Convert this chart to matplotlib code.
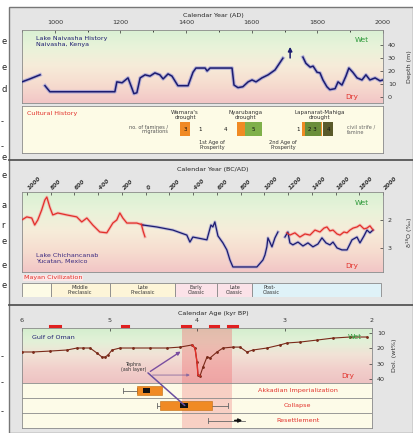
import numpy as np
import matplotlib
matplotlib.use("Agg")
import matplotlib.pyplot as plt
from matplotlib.colors import LinearSegmentedColormap
from matplotlib.patches import Rectangle, ConnectionPatch
from matplotlib.lines import Line2D

nan = np.nan

# ---- Panel A: Lake Naivasha (calendar year AD, lake depth m)
years_a = [900, 924, 955, nan, 970, 985, 1183, 1189, 1205, 1223, 1232, 1241, 1250,
           1260, 1275, 1290, 1305, 1320, 1330, 1345, 1357, 1375, 1406, 1421, 1430,
           1458, 1464, 1473, 1540, 1546, 1558, 1573, 1589, 1601, 1613, 1631, 1650,
           1671, 1683, 1695, nan, 1756, 1765, 1778, 1787, 1799, 1808, 1817, 1829,
           1838, 1854, 1863, 1875, 1887, 1896, 1908, 1921, 1936, 1948, 1960, 1976,
           1991, 2000]
depth_a = [11.5, 13.8, 17, nan, 8.5, 3.8, 3.8, 11.5, 10.8, 14.6, 8.5, 2.3, 3,
           14.6, 17, 16, 18.5, 17, 13.8, 17.7, 16, 8.5, 8.5, 19, 22.3,
           22.3, 20, 22.3, 22.3, 9, 7, 7.7, 11.5, 13, 11.5, 14.6, 17,
           20.8, 25.4, 30, nan, 30.8, 26, 23, 23.8, 19, 18.5, 13, 7.7,
           5.4, 6.2, 11.5, 9, 16, 22.3, 19, 14.6, 13, 17, 13, 14.6,
           12.3, 13]
arrow_year_a = 1717
arrow_depth_a = (28, 41)
ticks_a = [1000, 1200, 1400, 1600, 1800, 2000]
depth_ticks_a = [0, 10, 20, 30, 40]

# cultural history boxes (start, end, colour, label)
culture_boxes = [(1381, 1412, "#f08a24", "3"), (1555, 1631, "#f08a24", ""),
                 (1580, 1631, "#7fb04a", "5"), (1753, 1814, "#f08a24", ""),
                 (1762, 1810, "#6a8e3a", "2 3"), (1817, 1848, "#5a5a2a", "4")]
culture_digits = [(1442, "1"), (1519, "4"), (1741, "1")]
droughts = [(1397, "Wamara's\ndrought"), (1580, "Nyarubanga\ndrought"),
            (1808, "Lapanarat-Mahiga\ndrought")]
prosperity = [(1479, "1st Age of\nProsperity"), (1695, "2nd Age of\nProsperity")]

# ---- Panel B: Lake Chichancanab (calendar year BC/AD, d18O)
years_b_red = [-1042, -1000, -958, -933, -907, -874, -848, -831, -806, -781, -739,
               -663, -579, -537, -494, -444, -385, -326, -301, -275, -242, -216,
               -191, -157, -73, -22]
d18o_b_red = [2.0, 1.89, 1.93, 2.18, 2.0, 1.64, 1.29, 1.18, 1.54, 1.82, 1.75,
              1.82, 1.89, 2.07, 1.93, 2.18, 2.43, 2.46, 2.29, 2.11, 2.0, 1.75,
              1.93, 2.11, 2.11, 2.18]
years_b_frag = [-35, -20, -5]
d18o_b_frag = [2.15, 2.4, 2.6]
years_b_blue = [-22, 95, 230, 348, 374, 399, 517, 551, 567, 584, 610, 652, 685, 711,
                736, 938, 989, 1006, 1022, 1031, 1065, 1090, 1115, nan, 1174, 1199,
                1216, 1241, 1284, 1326, 1368, 1410, 1452, 1486, 1520, 1553, 1579,
                1613, 1654, 1697, 1739, 1781, 1806, 1840, 1865, 1890, 1916]
d18o_b_blue = [2.18, 2.25, 2.36, 2.54, 2.79, 2.61, 2.71, 2.18, 2.25, 2.07, 2.57,
               2.82, 3.07, 3.43, 3.68, 3.68, 3.43, 3.25, 2.96, 2.64, 2.96, 2.64,
               2.43, nan, 2.61, 2.43, 2.82, 2.89, 2.79, 2.93, 2.82, 2.96, 2.86,
               2.64, 2.82, 2.89, 2.79, 3.0, 3.07, 3.07, 2.71, 2.61, 2.82, 2.57,
               2.36, 2.46, 2.36]
years_b_red2 = [1191, 1216, 1258, 1300, 1343, 1385, 1427, 1469, 1503, 1528, 1553,
                1579, 1613, 1638, 1671, 1697, 1722, 1748, 1781, 1806, 1840, 1865,
                1890, 1916]
d18o_b_red2 = [2.46, 2.54, 2.46, 2.61, 2.5, 2.54, 2.36, 2.43, 2.29, 2.25, 2.39,
               2.36, 2.5, 2.54, 2.43, 2.46, 2.36, 2.29, 2.25, 2.18, 2.32, 2.29,
               2.21, 2.36]
ticks_b = list(range(-1000, 2001, 200))
maya_bounds = [-1040, -800, -300, 250, 600, 900, 1980]
maya_colors = ["#fdfbe6", "#fdf5d8", "#fdf5d8", "#fbe2e8", "#fbe2e8", "#dff2f8"]
maya_periods = ["", "Middle\nPreclassic", "Late\nPreclassic", "Early\nClassic",
                "Late\nClassic", "Post-\nClassic"]

# ---- Panel C: Gulf of Oman (calendar age kyr BP, dolomite wt%)
kyr_c = [6.0, 5.874, 5.68, 5.486, 5.371, 5.303, 5.223, 5.143, 5.086, 5.051, 5.017,
         4.971, 4.88, 4.731, 4.537, 4.343, 4.194, 4.057, 4.023, 4.0, 3.989, 3.966,
         3.931, 3.886, 3.851, 3.771, 3.703, 3.589, 3.509, 3.429, 3.36, 3.2, 3.051,
         2.971, 2.823, 2.629, 2.446, 2.251, 2.057]
dolo_c = [22.4, 22.4, 21.8, 21.1, 19.8, 19.8, 19.8, 23.1, 25.7, 25.7, 24.4,
          21.1, 19.8, 19.8, 19.8, 19.8, 19.2, 17.8, 19.8, 29.0, 37.5, 38.1,
          32.2, 25.7, 26.3, 22.4, 19.8, 19.2, 19.2, 22.4, 21.1, 19.8, 17.8,
          16.5, 15.9, 14.6, 13.3, 12.6, 12.6]
dates_c = [(5.68, 5.57), (4.86, 4.79), (4.17, 4.08), (3.85, 3.76), (3.65, 3.54)]
band_c = (4.17, 3.6)
ticks_c = [6, 5, 4, 3, 2]
dolo_ticks_c = [10, 20, 30, 40]
rows_c = ["Akkadian Imperialization", "Collapse", "Resettlement"]
row_whisk = [(4.85, 4.69), (4.46, 3.65), (3.87, 3.45)]
row_box = [(4.69, 4.40), (4.42, 3.83), None]
row_core = [(4.62, 4.54), (4.19, 4.10), None]

strip_chars = ["e", "e", "d", "-", "-", "e", "e", "a", "r", "e", "e", "e", "-", "-", "-"]
strip_y = [42, 67, 90, 122, 147, 158, 175, 205, 225, 242, 265, 285, 357, 383, 412]

# ------------------------------------------------------------------
W, H = 413, 433
NAVY = "#1c1c70"
RED = "#e2302a"
FS = 4.6


def rect(x0, y0, x1, y1):
    return [x0 / W, 1 - y1 / H, (x1 - x0) / W, (y1 - y0) / H]


def fx(x):
    return x / W


def fy(y):
    return 1 - y / H


grad = LinearSegmentedColormap.from_list(
    "wetdry", ["#d9f0d3", "#e9f3da", "#f7ecd9", "#f6dccf", "#f2c6c6"])
grad_c = LinearSegmentedColormap.from_list(
    "wetdry_c", ["#d3eecd", "#e2f1d8", "#f2e2d6", "#f1cfcb", "#eec3c3"])


def gradient(ax, cmap):
    ax.imshow(np.linspace(0, 1, 256).reshape(-1, 1), cmap=cmap, aspect="auto",
              extent=(0, 1, 0, 1), transform=ax.transAxes, zorder=0)


def style(ax):
    for s in ax.spines.values():
        s.set_color("#8a8a8a")
        s.set_linewidth(0.6)
    ax.tick_params(labelsize=FS, colors="#333333", width=0.5, length=2.5,
                   direction="in")


fig = plt.figure(figsize=(W / 100, H / 100), dpi=100)
fig.patch.set_facecolor("white")
fig.add_artist(Rectangle((fx(9), 0), 1 - fx(9), fy(7), transform=fig.transFigure,
                         facecolor="#e5e5e5", edgecolor="#777777", lw=1.0, zorder=0))
for yy in (160, 305):
    fig.add_artist(Line2D([fx(9), 1], [fy(yy), fy(yy)], transform=fig.transFigure,
                          color="#555555", lw=1.3))
for ch, yy in zip(strip_chars, strip_y):
    fig.text(fx(1), fy(yy), ch, fontsize=6, color="#222222", va="center")

# ---------------- Panel A
fig.text(fx(213), fy(15), "Calendar Year (AD)", fontsize=FS, ha="center",
         va="center", color="#222222")
ax_a = fig.add_axes(rect(22, 30, 383, 103))
gradient(ax_a, grad)
ax_a.plot(years_a, depth_a, color="#9c9cd6", lw=2.6, alpha=0.7, zorder=2)
ax_a.plot(years_a, depth_a, color=NAVY, lw=1.1, zorder=3)
ax_a.annotate("", xy=(arrow_year_a, arrow_depth_a[1]),
              xytext=(arrow_year_a, arrow_depth_a[0]),
              arrowprops=dict(arrowstyle="-|>", color=NAVY, lw=1.1,
                              mutation_scale=6), zorder=4)
ax_a.set_xlim(900, 2000)
ax_a.set_ylim(-5, 52)
ax_a.xaxis.tick_top()
ax_a.set_xticks(ticks_a)
ax_a.set_xticks(range(900, 2001, 100), minor=True)
ax_a.yaxis.tick_right()
ax_a.set_yticks(depth_ticks_a)
ax_a.yaxis.set_label_position("right")
ax_a.set_ylabel("Depth (m)", fontsize=FS, color="#333333", labelpad=8)
style(ax_a)
ax_a.tick_params(which="minor", length=1.5, width=0.5, direction="in")
ax_a.text(0.04, 0.84, "Lake Naivasha History\nNaivasha, Kenya", transform=ax_a.transAxes,
          fontsize=FS, color=NAVY, va="center", linespacing=1.1)
ax_a.text(0.96, 0.86, "Wet", transform=ax_a.transAxes, fontsize=FS + 0.6,
          color="#2e9a3a", ha="right", va="center")
ax_a.text(0.93, 0.08, "Dry", transform=ax_a.transAxes, fontsize=FS + 0.6,
          color=RED, ha="right", va="center")

ax_a2 = fig.add_axes(rect(22, 106, 383, 153))
ax_a2.set_facecolor("#fdfbe6")
ax_a2.set_xlim(900, 2000)
ax_a2.set_ylim(0, 1)
ax_a2.set_xticks([])
ax_a2.set_yticks([])
style(ax_a2)
ax_a2.text(915, 0.85, "Cultural History", fontsize=FS, color=RED, va="center")
for x, lab in droughts:
    ax_a2.text(x, 0.8, lab, fontsize=FS - 0.6, ha="center", va="center",
               color="#333333", linespacing=1.0)
for x0, x1, c, lab in culture_boxes:
    ax_a2.add_patch(Rectangle((x0, 0.36), x1 - x0, 0.3, facecolor=c,
                              edgecolor="none", zorder=2))
    if lab:
        ax_a2.text((x0 + x1) / 2, 0.51, lab, fontsize=FS - 0.6, ha="center",
                   va="center", color="#111111", zorder=3)
for x, lab in culture_digits:
    ax_a2.text(x, 0.51, lab, fontsize=FS - 0.6, ha="center", va="center",
               color="#111111")
for x, lab in prosperity:
    ax_a2.text(x, 0.17, lab, fontsize=FS - 0.9, ha="center", va="center",
               color="#333333", linespacing=1.0)
ax_a2.text(1345, 0.5, "no. of famines /\nmigrations", fontsize=FS - 1.0,
           ha="right", va="center", color="#555555", linespacing=1.0)
ax_a2.text(1890, 0.5, "civil strife /\nfamine", fontsize=FS - 1.0,
           ha="left", va="center", color="#666666", linespacing=1.0)

# ---------------- Panel B
fig.text(fx(213), fy(170), "Calendar Year (BC/AD)", fontsize=FS, ha="center",
         va="center", color="#222222")
ax_b = fig.add_axes(rect(22, 192, 383, 272))
gradient(ax_b, grad)
for xs, ys, c, halo in [(years_b_red, d18o_b_red, RED, "#f4a0a0"),
                        (years_b_frag, d18o_b_frag, RED, "#f4a0a0"),
                        (years_b_blue, d18o_b_blue, NAVY, "#9c9cd6"),
                        (years_b_red2, d18o_b_red2, RED, "#f4a0a0")]:
    ax_b.plot(xs, ys, color=halo, lw=2.2, alpha=0.6, zorder=2)
    ax_b.plot(xs, ys, color=c, lw=0.9, zorder=3)
ax_b.set_xlim(-1040, 2000)
ax_b.set_ylim(3.86, 1.0)
ax_b.xaxis.tick_top()
ax_b.set_xticks(ticks_b)
ax_b.set_xticklabels([str(abs(t)) for t in ticks_b], rotation=45, ha="left",
                     fontstyle="italic", fontweight="bold")
ax_b.yaxis.tick_right()
ax_b.set_yticks([2, 3])
ax_b.yaxis.set_label_position("right")
ax_b.set_ylabel("δ¹⁸O (‰)", fontsize=FS, color="#333333", labelpad=10)
style(ax_b)
ax_b.tick_params(axis="x", labelsize=FS - 0.4, pad=1)
ax_b.text(0.04, 0.17, "Lake Chichancanab\nYucatan, Mexico", transform=ax_b.transAxes,
          fontsize=FS, color="#3a2a80", va="center", linespacing=1.1)
ax_b.text(0.96, 0.86, "Wet", transform=ax_b.transAxes, fontsize=FS + 0.6,
          color="#2e9a3a", ha="right", va="center")
ax_b.text(0.93, 0.07, "Dry", transform=ax_b.transAxes, fontsize=FS + 0.6,
          color=RED, ha="right", va="center")
fig.text(fx(24), fy(278), "Mayan Civilization", fontsize=FS, color=RED,
         va="center", bbox=dict(facecolor="#fbe6e6", edgecolor="none", pad=0.6))

ax_b2 = fig.add_axes(rect(22, 283, 383, 297))
ax_b2.set_xlim(-1040, 2000)
ax_b2.set_ylim(0, 1)
ax_b2.set_xticks([])
ax_b2.set_yticks([])
ax_b2.axis("off")
for x0, x1, c, lab in zip(maya_bounds[:-1], maya_bounds[1:], maya_colors, maya_periods):
    ax_b2.add_patch(Rectangle((x0, 0), x1 - x0, 1, facecolor=c, edgecolor="#8a8a8a",
                              lw=0.6))
    if lab:
        ax_b2.text((x0 + x1) / 2 if x0 < 900 else x0 + 90, 0.5, lab,
                   fontsize=FS - 1.0, ha="center" if x0 < 900 else "left",
                   va="center", color="#333333", linespacing=1.0)

# ---------------- Panel C
fig.text(fx(213), fy(313), "Calendar Age (kyr BP)", fontsize=FS, ha="center",
         va="center", color="#222222")
ax_c = fig.add_axes(rect(22, 328, 372, 383))
gradient(ax_c, grad_c)
ax_c.axvspan(band_c[0], band_c[1], color="#f08080", alpha=0.45, lw=0, zorder=1)
ax_c.plot(kyr_c, dolo_c, color="#7a2a1a", lw=0.8, marker="o", ms=1.0, zorder=3)
ax_c.plot(kyr_c[17:22], dolo_c[17:22], color=RED, lw=1.0, zorder=4)
for a, b in dates_c:
    ax_c.plot([a, b], [1.03, 1.03], transform=ax_c.get_xaxis_transform(),
              color="#e02020", lw=2.2, clip_on=False, zorder=5)
ax_c.set_xlim(6, 2)
ax_c.set_ylim(42.7, 6.7)
ax_c.xaxis.tick_top()
ax_c.set_xticks(ticks_c)
ax_c.yaxis.tick_right()
ax_c.set_yticks(dolo_ticks_c)
ax_c.yaxis.set_label_position("right")
ax_c.set_ylabel("Dol. (wt%)", fontsize=FS, color="#333333", labelpad=5)
style(ax_c)
ax_c.text(0.03, 0.83, "Gulf of Oman", transform=ax_c.transAxes, fontsize=FS,
          color=NAVY, va="center")
ax_c.text(0.97, 0.83, "Wet", transform=ax_c.transAxes, fontsize=FS + 0.6,
          color="#2e9a3a", ha="right", va="center")
ax_c.text(0.95, 0.12, "Dry", transform=ax_c.transAxes, fontsize=FS + 0.6,
          color=RED, ha="right", va="center")
ax_c.text(4.72, 32, "Tephra\n(ash layer)", fontsize=FS - 1.2, ha="center",
          va="center", color="#333333", linespacing=1.0, zorder=6)
ax_c.annotate("", xy=(4.16, 21.1), xytext=(4.56, 36.1),
              arrowprops=dict(arrowstyle="-|>", color="#7a4fa0", lw=1.0,
                              mutation_scale=5), zorder=6)
ax_c.annotate("", xy=(4.05, 37.5), xytext=(4.54, 37.5),
              arrowprops=dict(arrowstyle="-|>", color="#8a6aa0", lw=0.6,
                              mutation_scale=4), zorder=6)

ax_c2 = fig.add_axes(rect(22, 383, 372, 428))
ax_c2.set_facecolor("#fdfbe8")
ax_c2.set_xlim(6, 2)
ax_c2.set_ylim(3, 0)
ax_c2.set_xticks([])
ax_c2.set_yticks([])
style(ax_c2)
ax_c2.axvspan(band_c[0], band_c[1], color="#f29090", alpha=0.4, lw=0, zorder=1)
for i, lab in enumerate(rows_c):
    yc = i + 0.5
    if i > 0:
        ax_c2.axhline(i, color="#8a8a8a", lw=0.6, zorder=2)
    w0, w1 = row_whisk[i]
    ax_c2.plot([w0, w1], [yc, yc], color="#666666", lw=0.6, zorder=3)
    ax_c2.plot([w0, w0], [yc - 0.15, yc + 0.15], color="#666666", lw=0.6, zorder=3)
    if row_box[i] is not None:
        b0, b1 = row_box[i]
        ax_c2.add_patch(Rectangle((b0, yc - 0.27), b1 - b0, 0.54, facecolor="#f08a24",
                                  edgecolor="#c06a10", lw=0.4, zorder=4))
        c0, c1 = row_core[i]
        ax_c2.add_patch(Rectangle((c0, yc - 0.14), c1 - c0, 0.28, facecolor="#111111",
                                  edgecolor="none", zorder=5))
        ax_c2.plot([w1, w1], [yc - 0.15, yc + 0.15], color="#666666", lw=0.6, zorder=3)
    else:
        ax_c2.annotate("", xy=(w1, yc), xytext=(w1 + 0.15, yc),
                       arrowprops=dict(arrowstyle="-|>", color="#111111", lw=1.2,
                                       mutation_scale=5), zorder=5)
    ax_c2.text(2.85, yc, lab, fontsize=FS, color=RED, ha="center", va="center", zorder=6)

fig.add_artist(ConnectionPatch(xyA=(4.56, 36.1), coordsA=ax_c.transData,
                               xyB=(4.14, 1.5), coordsB=ax_c2.transData,
                               color="#6a4fa0", lw=1.1, zorder=10))

fig.savefig("out.png", dpi=100, facecolor=fig.get_facecolor())
